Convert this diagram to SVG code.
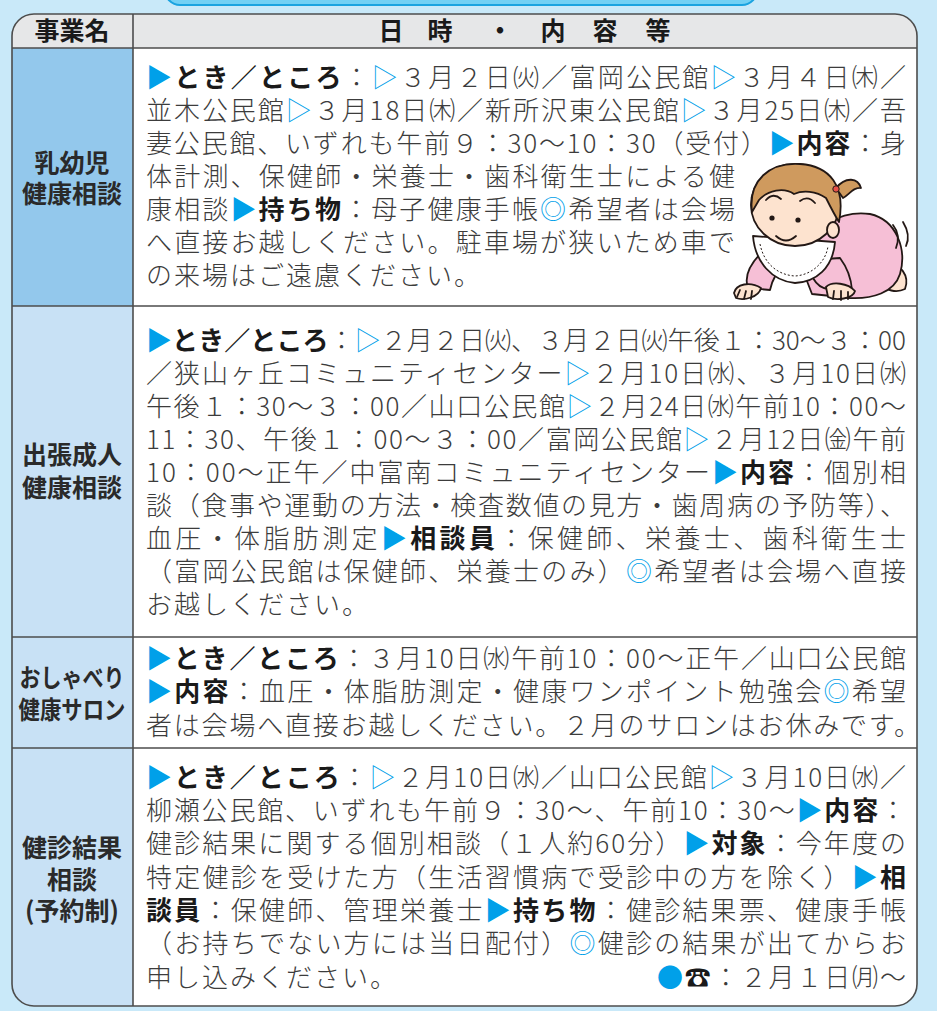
<svg xmlns="http://www.w3.org/2000/svg" width="937" height="1011" viewBox="0 0 937 1011">
<style>
.t{font-family:"Noto Sans CJK JP","Noto Sans","DejaVu Sans",sans-serif;font-size:26px;font-weight:300;fill:#3c3c3c;}
.b{font-weight:bold;fill:#1a1a1a;}
.c{fill:#00a0e9;}
.lab{font-family:"Noto Sans CJK JP","Noto Sans",sans-serif;font-size:25px;font-weight:bold;fill:#2a2a2a;text-anchor:middle;}
.grid{stroke:#4d4d4d;stroke-width:1.6;fill:none;}
.ol{stroke:#231815;stroke-width:1.8;stroke-linejoin:round;stroke-linecap:round;}
</style>
<defs>
<clipPath id="tbl"><rect x="12" y="14" width="905" height="992" rx="22"/></clipPath>
</defs>
<rect x="0" y="0" width="937" height="1011" fill="#c9e9f9"/>
<rect x="165" y="-30" width="592" height="35" rx="15" fill="#72d0f4" stroke="#1aa3e0" stroke-width="2"/>

<g id="table-frame">
<g clip-path="url(#tbl)">
<rect x="12" y="14" width="905" height="992" fill="#fff"/>
<rect x="12" y="14" width="905" height="34" fill="#e6e7e8"/>
<rect x="12" y="48" width="121" height="258" fill="#93c8ec"/>
<rect x="12" y="306" width="121" height="700" fill="#c8e1f5"/>
</g>
<g class="grid">
<rect x="12" y="14" width="905" height="992" rx="22"/>
<line x1="133" y1="14" x2="133" y2="1006"/>
<line x1="12" y1="48" x2="917" y2="48"/>
<line x1="12" y1="306" x2="917" y2="306"/>
<line x1="12" y1="637" x2="917" y2="637"/>
<line x1="12" y1="748" x2="917" y2="748"/>
</g>
</g>

<g id="header">
<text class="lab" x="72" y="40" style="fill:#1a1a1a">事業名</text>
<g class="lab" style="fill:#1a1a1a">
<text x="391" y="40">日</text>
<text x="440" y="40">時</text>
<text x="500" y="40">・</text>
<text x="553" y="40">内</text>
<text x="605" y="40">容</text>
<text x="658" y="40">等</text>
</g>
</g>

<g id="row-nyuyoji">
<text class="lab" x="72" y="172">乳幼児</text>
<text class="lab" x="72" y="203">健康相談</text>
<text class="t" x="146" y="87" textLength="760" lengthAdjust="spacing"><tspan class="c">▶</tspan><tspan class="b">とき／ところ</tspan>：<tspan class="c">▷</tspan>３月２日㈫／富岡公民館<tspan class="c">▷</tspan>３月４日㈭／</text>
<text class="t" x="146" y="120" textLength="760" lengthAdjust="spacing">並木公民館<tspan class="c">▷</tspan>３月18日㈭／新所沢東公民館<tspan class="c">▷</tspan>３月25日㈭／吾</text>
<text class="t" x="146" y="153" textLength="760" lengthAdjust="spacing">妻公民館、いずれも午前９：30〜10：30（受付）<tspan class="c">▶</tspan><tspan class="b">内容</tspan>：身</text>
<text class="t" x="146" y="186" textLength="589" lengthAdjust="spacing">体計測、保健師・栄養士・歯科衛生士による健</text>
<text class="t" x="146" y="219" textLength="589" lengthAdjust="spacing">康相談<tspan class="c">▶</tspan><tspan class="b">持ち物</tspan>：母子健康手帳<tspan class="c">◎</tspan>希望者は会場</text>
<text class="t" x="146" y="252" textLength="589" lengthAdjust="spacing">へ直接お越しください。駐車場が狭いため車で</text>
<text class="t" x="146" y="285" style="letter-spacing:2px">の来場はご遠慮ください。</text>
</g>

<g id="baby">
<path class="ol" d="M888 266 C900 262 910 276 905 289 C897 293 885 291 880 283 Z" fill="#fde3cf"/>
<path class="ol" d="M798 258 C806 226 845 210 870 214 C897 220 907 250 900 274 C894 293 872 299 850 298 L812 294 Z" fill="#f6bfd6"/>
<path class="ol" d="M762 252 C750 264 744 277 748 288 L770 290 C772 280 778 270 786 262 Z" fill="#f6bfd6"/>
<path class="ol" d="M812 260 C808 274 815 287 828 289 L852 290 C851 276 846 266 840 258 Z" fill="#f6bfd6"/>
<path class="ol" d="M734 293 C736 284 750 281 761 288 C759 297 744 301 736 298 Z" fill="#fde3cf"/>
<path class="ol" d="M740 290 L737 297 M746 291 L744 299 M752 291 L751 299" fill="none"/>
<path class="ol" d="M826 287 C832 281 848 283 855 291 C853 299 836 301 828 297 Z" fill="#fde3cf"/>
<path class="ol" d="M834 291 L833 299 M841 291 L841 300 M848 292 L848 299" fill="none"/>
<path class="ol" d="M753 236 C755 262 772 281 795 283 C816 282 833 268 835 242 Z" fill="#fff"/>
<path d="M760 244 C764 264 778 275 795 276 C812 275 826 262 828 246" fill="none" stroke="#231815" stroke-width="1" stroke-dasharray="2 2"/>
<ellipse class="ol" cx="795" cy="205" rx="44" ry="41" fill="#fde3cf"/>
<ellipse class="ol" cx="833" cy="230" rx="6" ry="8" fill="#fde3cf"/>
<path class="ol" d="M752 212 C748 180 770 162 800 164 C830 166 846 186 839 222 C834 214 830 206 826 198 C816 191 803 190 794 194 C784 187 768 190 759 200 Z" fill="#cf9a5e"/>
<path class="ol" d="M836 188 C846 176 858 178 861 188 C853 187 849 195 843 198 Z" fill="#cf9a5e"/>
<circle cx="836" cy="189" r="3.2" fill="#e8504a" stroke="#231815" stroke-width="1"/>
<circle cx="772" cy="218" r="2.6" fill="#231815"/>
<circle cx="798" cy="220" r="2.6" fill="#231815"/>
<path class="ol" d="M766 200 Q773 192 781 199 M800 201 Q808 195 815 203 M776 236 Q786 245 796 236" fill="none"/>
<path class="ol" d="M893 225 Q901 235 896 248 M903 222 Q911 235 906 246" fill="none"/>
</g>

<g id="row-shucho">
<text class="lab" x="72" y="464">出張成人</text>
<text class="lab" x="72" y="497">健康相談</text>
<text class="t" x="146" y="350" textLength="760" lengthAdjust="spacing"><tspan class="c">▶</tspan><tspan class="b">とき／ところ</tspan>：<tspan class="c">▷</tspan>２月２日㈫、３月２日㈫午後１：30〜３：00</text>
<text class="t" x="146" y="383" textLength="760" lengthAdjust="spacing">／狭山ヶ丘コミュニティセンター<tspan class="c">▷</tspan>２月10日㈬、３月10日㈬</text>
<text class="t" x="146" y="416" textLength="760" lengthAdjust="spacing">午後１：30〜３：00／山口公民館<tspan class="c">▷</tspan>２月24日㈬午前10：00〜</text>
<text class="t" x="146" y="449" textLength="760" lengthAdjust="spacing">11：30、午後１：00〜３：00／富岡公民館<tspan class="c">▷</tspan>２月12日㈮午前</text>
<text class="t" x="146" y="482" textLength="760" lengthAdjust="spacing">10：00〜正午／中富南コミュニティセンター<tspan class="c">▶</tspan><tspan class="b">内容</tspan>：個別相</text>
<text class="t" x="146" y="515" textLength="760" lengthAdjust="spacing">談（食事や運動の方法・検査数値の見方・歯周病の予防等）、</text>
<text class="t" x="146" y="548" textLength="760" lengthAdjust="spacing">血圧・体脂肪測定<tspan class="c">▶</tspan><tspan class="b">相談員</tspan>：保健師、栄養士、歯科衛生士</text>
<text class="t" x="146" y="581" textLength="760" lengthAdjust="spacing">（富岡公民館は保健師、栄養士のみ）<tspan class="c">◎</tspan>希望者は会場へ直接</text>
<text class="t" x="146" y="614" style="letter-spacing:2px">お越しください。</text>
</g>

<g id="row-salon">
<text class="lab" x="72" y="687" textLength="105" lengthAdjust="spacingAndGlyphs">おしゃべり</text>
<text class="lab" x="72" y="719" textLength="107" lengthAdjust="spacingAndGlyphs">健康サロン</text>
<text class="t" x="146" y="668" textLength="760" lengthAdjust="spacing"><tspan class="c">▶</tspan><tspan class="b">とき／ところ</tspan>：３月10日㈬午前10：00〜正午／山口公民館</text>
<text class="t" x="146" y="701" textLength="760" lengthAdjust="spacing"><tspan class="c">▶</tspan><tspan class="b">内容</tspan>：血圧・体脂肪測定・健康ワンポイント勉強会<tspan class="c">◎</tspan>希望</text>
<text class="t" x="146" y="735" textLength="774" lengthAdjust="spacing">者は会場へ直接お越しください。２月のサロンはお休みです。</text>
</g>

<g id="row-kenshin">
<text class="lab" x="72" y="857">健診結果</text>
<text class="lab" x="72" y="889">相談</text>
<text class="lab" x="72" y="920">(予約制)</text>
<text class="t" x="146" y="787" textLength="760" lengthAdjust="spacing"><tspan class="c">▶</tspan><tspan class="b">とき／ところ</tspan>：<tspan class="c">▷</tspan>２月10日㈬／山口公民館<tspan class="c">▷</tspan>３月10日㈬／</text>
<text class="t" x="146" y="820" textLength="760" lengthAdjust="spacing">柳瀬公民館、いずれも午前９：30〜、午前10：30〜<tspan class="c">▶</tspan><tspan class="b">内容</tspan>：</text>
<text class="t" x="146" y="853" textLength="760" lengthAdjust="spacing">健診結果に関する個別相談（１人約60分）<tspan class="c">▶</tspan><tspan class="b">対象</tspan>：今年度の</text>
<text class="t" x="146" y="887" textLength="760" lengthAdjust="spacing">特定健診を受けた方（生活習慣病で受診中の方を除く）<tspan class="c">▶</tspan><tspan class="b">相</tspan></text>
<text class="t" x="146" y="920" textLength="760" lengthAdjust="spacing"><tspan class="b">談員</tspan>：保健師、管理栄養士<tspan class="c">▶</tspan><tspan class="b">持ち物</tspan>：健診結果票、健康手帳</text>
<text class="t" x="146" y="953" textLength="760" lengthAdjust="spacing">（お持ちでない方には当日配付）<tspan class="c">◎</tspan>健診の結果が出てからお</text>
<text class="t" x="146" y="987" style="letter-spacing:2px">申し込みください。</text>
<text class="t" x="657" y="987" textLength="249" lengthAdjust="spacing"><tspan class="c">●</tspan><tspan class="b">☎</tspan>：２月１日㈪〜</text>
</g>
</svg>
